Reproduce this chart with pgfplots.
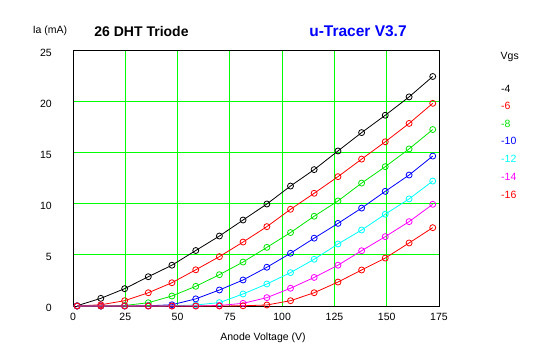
\documentclass[border=0pt]{standalone}
\usepackage{fontspec}
\setmainfont{Liberation Sans}
\usepackage{pgfplots}
\pgfplotsset{compat=1.18}
\usepackage{pgfplotstable}
\definecolor{gridgreen}{RGB}{0,255,0}
\definecolor{cgreen}{RGB}{0,230,0}
\definecolor{cred}{RGB}{255,0,0}
\definecolor{cblue}{RGB}{0,0,255}
\definecolor{ccyan}{RGB}{0,255,255}
\definecolor{cmag}{RGB}{255,0,255}
\definecolor{tblue}{RGB}{0,0,255}

\pgfplotstableread{
V     a     b     c     d     e     f     g
2     0.03  0     0     0     0     0     0
13.3  0.75  0.12  0     0     0     0     0
24.7  1.7   0.52  0.05  0     0     0     0
36    2.87  1.3   0.32  0.02  0     0     0
47.3  4.0   2.28  0.98  0.12  0.02  0     0
58.7  5.44  3.55  1.93  0.7   0.1   0     0
70    6.86  4.84  3.07  1.57  0.33  0.05  0
81.3  8.43  6.27  4.31  2.55  1.18  0.26  0.02
92.7  10.0  7.78  5.75  3.8   2.16  0.82  0.1
104   11.76 9.48  7.2   5.17  3.27  1.74  0.52
115.3 13.37 11.05 8.8   6.65  4.58  2.8   1.3
126.7 15.2  12.68 10.3  8.1   6.08  4.0   2.35
138   17.0  14.4  12.05 9.6   7.45  5.42  3.53
149.3 18.7  16.1  13.66 11.24 9.0   6.8   4.7
160.7 20.5  17.9  15.4  12.84 10.5  8.27  6.18
172   22.5  19.87 17.3  14.7  12.25 9.97  7.68
}\datatable

\begin{document}
\fontsize{10.5bp}{12bp}\selectfont
\begin{tikzpicture}
\path[use as bounding box] (0,0) rectangle (547bp,357bp);
\begin{axis}[
  at={(73bp,51bp)}, anchor=south west,
  width=366bp, height=255bp, scale only axis,
  xmin=0, xmax=175, ymin=0, ymax=25,
  xtick={0,25,...,175}, ytick={0,5,...,25},
  major tick length=0pt,
  grid=major,
  major grid style={color=gridgreen, line width=1bp},
  axis line style={black, line width=1bp},
  /pgf/number format/assume math mode=true,
  ticklabel style={font=\fontsize{10.5bp}{12bp}\selectfont},
  xticklabel style={anchor=north, inner sep=0pt, yshift=-7bp},
  yticklabel style={anchor=east, inner sep=0pt, xshift=-21bp, yshift=-2bp},
  every axis plot/.append style={line width=0.8bp, mark=o, mark size=3bp, mark options={solid, line width=0.8bp}},
  clip=false,
]
\addplot[black] table[x=V,y=a]{\datatable};
\addplot[cred] table[x=V,y=b]{\datatable};
\addplot[cgreen] table[x=V,y=c]{\datatable};
\addplot[cblue] table[x=V,y=d]{\datatable};
\addplot[ccyan] table[x=V,y=e]{\datatable};
\addplot[cmag] table[x=V,y=f]{\datatable};
\addplot[cred] table[x=V,y=g]{\datatable};
\end{axis}
\node[anchor=center] at (50bp,357bp-31bp) {Ia (mA)};
\node[anchor=center, font=\fontsize{14bp}{16bp}\selectfont\bfseries] at (141.5bp,357bp-31.5bp) {26 DHT Triode};
\node[anchor=center, text=tblue, font=\fontsize{15.5bp}{17bp}\selectfont\bfseries] at (358bp,357bp-31bp) {u-Tracer V3.7};
\node[anchor=west, inner sep=0pt] at (500.5bp,357bp-57bp) {Vgs};
\node[anchor=west, inner sep=0pt, text=black] at (501bp,357bp-89bp) {-4};
\node[anchor=west, inner sep=0pt, text=cred] at (501bp,357bp-106bp) {-6};
\node[anchor=west, inner sep=0pt, text=cgreen] at (501bp,357bp-123.5bp) {-8};
\node[anchor=west, inner sep=0pt, text=cblue] at (501bp,357bp-141.3bp) {-10};
\node[anchor=west, inner sep=0pt, text=ccyan] at (501bp,357bp-159bp) {-12};
\node[anchor=west, inner sep=0pt, text=cmag] at (501bp,357bp-176.5bp) {-14};
\node[anchor=west, inner sep=0pt, text=cred] at (501bp,357bp-195bp) {-16};
\node[anchor=center] at (263bp,357bp-338bp) {Anode Voltage (V)};
\end{tikzpicture}
\end{document}
